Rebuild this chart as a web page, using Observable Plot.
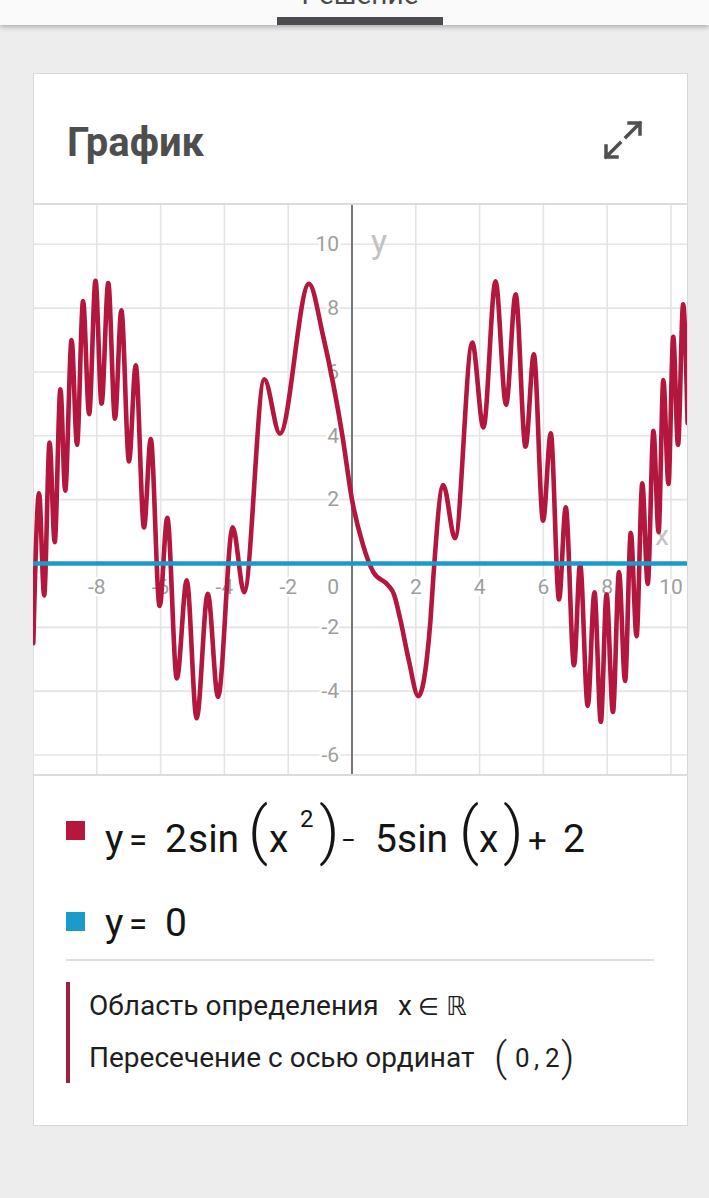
<!DOCTYPE html>
<html><head><meta charset="utf-8">
<script src="https://cdn.jsdelivr.net/npm/d3@7"></script>
<script src="https://cdn.jsdelivr.net/npm/@observablehq/plot@0.6"></script>
<style>
html,body{margin:0;padding:0;}
body{width:709px;height:1198px;background:#ededed;position:relative;overflow:hidden;font-family:Roboto,"Noto Sans",sans-serif;}
#topbar{position:absolute;left:0;top:0;width:709px;height:25px;background:#fafafa;box-shadow:0 2px 5px rgba(0,0,0,0.28);}
#tab{position:absolute;left:277px;top:17px;width:166px;height:8px;background:#4b4b50;}
#card{position:absolute;left:33px;top:73px;width:655px;height:1053px;box-sizing:border-box;background:#fff;border:1.5px solid #d8d8d8;}
#chart{position:absolute;left:33px;top:204px;width:654px;height:571px;}
.hline{position:absolute;background:#dcdcdc;}
#overlay{position:absolute;left:0;top:0;pointer-events:none;}
</style></head><body>
<div id="topbar"></div>
<div id="tab"></div>
<div id="card"></div>
<div id="chart"></div>
<div class="hline" style="left:33px;top:203px;width:655px;height:2px;"></div>
<div class="hline" style="left:33px;top:774px;width:655px;height:2px;"></div>
<svg id="overlay" width="709" height="1198" font-family="Roboto, 'Noto Sans', sans-serif">
  <text x="360" y="4" text-anchor="middle" font-size="28" fill="#4a4a4a">Решение</text>
  <text x="67" y="156" font-size="40" font-weight="700" fill="#4e4e4e">График</text>
  <path d="M629,123 H640 V134 M640,123 L626,137 M606,146 V157 H617 M606,157 L620,143" fill="none" stroke="#505050" stroke-width="3.5" stroke-linecap="square"/>
  <rect x="66" y="821" width="19" height="19" fill="#b5173d"/>
  <text y="852" font-size="39" fill="#151515">
    <tspan x="105">y</tspan><tspan x="129" font-size="33">=</tspan><tspan x="165" font-size="39">2</tspan><tspan x="188">sin</tspan><tspan x="248" y="852" font-size="63" font-weight="300">(</tspan><tspan x="269" y="852" font-size="39">x</tspan><tspan x="300" y="827" font-size="24">2</tspan><tspan x="319" y="852" font-size="63" font-weight="300">)</tspan><tspan x="341" y="849" font-size="26">−</tspan><tspan x="375" y="852" font-size="39">5</tspan><tspan x="397">sin</tspan><tspan x="459" y="852" font-size="63" font-weight="300">(</tspan><tspan x="479" y="852" font-size="39">x</tspan><tspan x="503" y="852" font-size="63" font-weight="300">)</tspan><tspan x="528" y="852" font-size="33">+</tspan><tspan x="563" font-size="39">2</tspan>
  </text>
  <rect x="66" y="912" width="19" height="19" fill="#1a9bc9"/>
  <text y="936" font-size="39" fill="#151515"><tspan x="105">y</tspan><tspan x="129" font-size="33">=</tspan><tspan x="165" font-size="39">0</tspan></text>
  <rect x="66" y="959" width="588" height="2" fill="#dedede"/>
  <rect x="66" y="982" width="4" height="101" fill="#9e1f3e"/>
  <text x="89" y="1015" font-size="28" fill="#1e1e1e">Область определения</text>
  <text y="1015" font-size="28" fill="#1e1e1e"><tspan x="398">x</tspan><tspan x="418" font-family="'DejaVu Sans', sans-serif" font-size="24">∈</tspan><tspan x="446" font-family="'DejaVu Sans', sans-serif" font-size="26">ℝ</tspan></text>
  <text x="89" y="1067" font-size="28" fill="#1e1e1e">Пересечение с осью ординат</text>
  <text y="1067" font-size="26" fill="#1e1e1e"><tspan x="494" y="1071" font-size="41" font-weight="300">(</tspan><tspan x="515" y="1067">0</tspan><tspan x="534">,</tspan><tspan x="545">2</tspan><tspan x="561" y="1071" font-size="41" font-weight="300">)</tspan></text>
</svg>
<script>
// Red curve: y = 2sin(x^2) - 5sin(x) + 2 (extrema and shape points)
const curveX = [-9.99,-9.81,-9.65,-9.48,-9.32,-9.14,-8.99,-8.79,-8.62,-8.43,-8.24,-8.04,-7.85,-7.64,-7.43,-7.23,-6.99,-6.78,-6.52,-6.31,-6.03,-5.79,-5.49,-5.18,-4.87,-4.52,-4.20,-3.74,-3.38,-2.75,-2.26,-1.35,-0.9,-0.3,0,0.34,0.67,1.14,1.31,1.52,1.78,2.08,2.34,2.46,2.55,2.86,3.23,3.77,4.12,4.50,4.83,5.13,5.44,5.70,5.99,6.23,6.49,6.70,6.96,7.15,7.39,7.60,7.80,7.98,8.18,8.37,8.56,8.74,8.92,9.10,9.27,9.45,9.61,9.76,9.92,10.07,10.22,10.38,10.52];
const curveY = [-2.5,2.2,-1.0,3.79,0.67,5.46,2.28,7.0,3.72,8.22,4.68,8.86,5.01,8.79,4.54,7.93,3.2,6.21,1.13,3.9,-1.33,1.43,-3.6,-0.53,-4.85,-0.95,-4.18,1.13,-0.9,5.77,4.07,8.76,7.1,4.0,2.0,0.6,-0.27,-0.69,-0.95,-1.78,-3.03,-4.16,-3.03,-1.78,-0.43,2.46,0.79,6.92,4.26,8.84,4.97,8.43,3.66,6.55,1.34,4.08,-1.13,1.76,-3.19,-0.01,-4.46,-0.9,-4.96,-0.97,-4.65,-0.27,-3.68,0.96,-2.28,2.51,-0.64,4.16,0.98,5.75,2.49,7.1,3.72,8.12,4.4];
// Blue line: y = 0
const zeroX = [-10, 10.52];
const zeroY = [0, 0];
// Grid and ticks
const gridX = [-10,-8,-6,-4,-2,0,2,4,6,8,10];
const gridY = [-6,-4,-2,0,2,4,6,8,10];
const xTickValues = [-8,-6,-4,-2,2,4,6,8,10];
const xTickLabels = ["-8","-6","-4","-2","2","4","6","8","10"];
const yTickValues = [10,8,6,4,2,-2,-4,-6];
const yTickLabels = ["10","8","6","4","2","-2","-4","-6"];
const originLabel = ["0"];

const curve = curveX.map((x, i) => ({x, y: curveY[i]}));
const zero = zeroX.map((x, i) => ({x, y: zeroY[i]}));
const font = "Roboto, 'Noto Sans', sans-serif";

const chart = Plot.plot({
  width: 654, height: 571, margin: 0,
  x: {domain: [-9.984, 10.517], axis: null},
  y: {domain: [-6.642, 11.247], axis: null},
  style: {background: "transparent", fontFamily: font},
  marks: [
    Plot.ruleX(gridX, {stroke: "#e4e4e4", strokeWidth: 1.6}),
    Plot.ruleY(gridY, {stroke: "#e4e4e4", strokeWidth: 1.6}),
    Plot.ruleX([0], {stroke: "#777777", strokeWidth: 2}),
    Plot.text(xTickValues, {x: d => d, y: 0, dy: 24, text: (d, i) => xTickLabels[i], fill: "#9e9e9e", stroke: "white", strokeWidth: 5, fontSize: 21, fontFamily: font}),
    Plot.text(yTickValues, {x: 0, y: d => d, dx: -13, textAnchor: "end", text: (d, i) => yTickLabels[i], fill: "#9e9e9e", stroke: "white", strokeWidth: 5, fontSize: 21, fontFamily: font}),
    Plot.text(originLabel, {x: 0, y: 0, dx: -13, dy: 24, textAnchor: "end", text: d => d, fill: "#9e9e9e", stroke: "white", strokeWidth: 5, fontSize: 21, fontFamily: font}),
    Plot.text(["y"], {x: 0, y: 10.08, dx: 19, textAnchor: "start", text: d => d, fill: "#c2c2c2", fontSize: 34, fontFamily: font}),
    Plot.text(["x"], {x: 9.5, y: 0.85, textAnchor: "start", text: d => d, fill: "#c2c2c2", fontSize: 28, fontFamily: font}),
    Plot.line(curve, {x: "x", y: "y", curve: "monotone-x", stroke: "#b3173d", strokeWidth: 4.6, clip: true}),
    Plot.line(zero, {x: "x", y: "y", stroke: "#1a9bc9", strokeWidth: 4.6, clip: true})
  ]
});
document.getElementById("chart").appendChild(chart);
</script>
</body></html>
